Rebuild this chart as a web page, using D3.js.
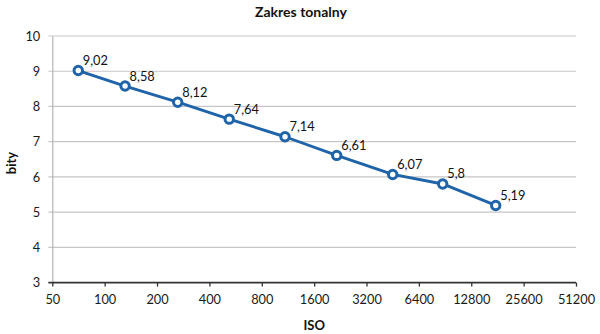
<!DOCTYPE html>
<html>
<head>
<meta charset="utf-8">
<script src="https://cdn.jsdelivr.net/npm/d3@7"></script>
<style>
  html, body { margin: 0; padding: 0; background: #fff; }
  svg { display: block; font-family: Lato, "Open Sans", sans-serif; }
</style>
</head>
<body>
<svg id="chart" width="600" height="334"></svg>
<script>
const chartTitle = "Zakres tonalny";
const xTitle = "ISO";
const yTitle = "bity";
const isoTicks = [50, 100, 200, 400, 800, 1600, 3200, 6400, 12800, 25600, 51200];
const yTicks = [3, 4, 5, 6, 7, 8, 9, 10];
const isoValues = [70.5, 131, 263, 520, 1088, 2157, 4525, 8772, 17690];
const bitValues = [9.02, 8.58, 8.12, 7.64, 7.14, 6.61, 6.07, 5.8, 5.19];

const blue = "#1f63a9";
const svg = d3.select("#chart");
const m = { left: 52.3, right: 576, top: 36, bottom: 282.6 };

const x = d3.scaleLog().base(2).domain([50, 51200]).range([m.left, m.right]);
const y = d3.scaleLinear().domain([3, 10]).range([m.bottom, m.top]);

// gridlines
svg.append("g")
  .selectAll("line").data(yTicks.filter(d => d > 3)).join("line")
  .attr("x1", m.left - 4).attr("x2", m.right)
  .attr("y1", d => y(d)).attr("y2", d => y(d))
  .attr("stroke", "#c6c6c6").attr("stroke-width", 1.2);

// y axis
const yAxis = d3.axisLeft(y).tickValues(yTicks).tickSize(0).tickPadding(12).tickFormat(d3.format("d"));
const gy = svg.append("g").attr("transform", `translate(${m.left},0)`).call(yAxis);
gy.select(".domain").attr("stroke", "#b4b4b4").attr("stroke-width", 1.2);
gy.selectAll("text").attr("font-size", 12.8).attr("fill", "#1a1a1a").attr("font-family", "Lato");

// x axis
const xAxis = d3.axisBottom(x).tickValues(isoTicks).tickSize(4).tickSizeOuter(0).tickPadding(8).tickFormat(d3.format("d"));
const gx = svg.append("g").attr("transform", `translate(0,${m.bottom})`).call(xAxis);
gx.select(".domain").attr("stroke", "#333").attr("stroke-width", 1.6)
  .attr("d", `M${m.left - 4},0H${m.right}`);
gx.selectAll(".tick line").attr("stroke", "#333").attr("stroke-width", 1.3);
gx.selectAll("text").attr("font-size", 12.8).attr("fill", "#1a1a1a").attr("font-family", "Lato");

// line
const pts = isoValues.map((v, i) => ({ iso: v, bits: bitValues[i] }));
svg.append("path").datum(pts)
  .attr("fill", "none").attr("stroke", blue).attr("stroke-width", 2.9)
  .attr("stroke-linejoin", "round")
  .attr("d", d3.line().x(d => x(d.iso)).y(d => y(d.bits)));

// markers
svg.append("g").selectAll("circle").data(pts).join("circle")
  .attr("cx", d => x(d.iso)).attr("cy", d => y(d.bits)).attr("r", 4.2)
  .attr("fill", "#fff").attr("stroke", blue).attr("stroke-width", 3);

// data labels
svg.append("g").selectAll("text").data(pts).join("text")
  .attr("x", d => x(d.iso) + 4.5).attr("y", d => y(d.bits) - 5.5)
  .attr("font-size", 12.8).attr("fill", "#111")
  .text(d => String(d.bits).replace(".", ","));

// titles
svg.append("text").attr("x", 301).attr("y", 16.5).attr("text-anchor", "middle")
  .attr("font-size", 14).attr("font-weight", "bold").attr("fill", "#111").text(chartTitle);
svg.append("text").attr("x", (m.left + m.right) / 2).attr("y", 329.5).attr("text-anchor", "middle")
  .attr("font-size", 13).attr("font-weight", "bold").attr("fill", "#111").text(xTitle);
svg.append("text").attr("transform", "translate(16,163) rotate(-90)").attr("text-anchor", "middle")
  .attr("font-size", 13).attr("font-weight", "bold").attr("fill", "#111").text(yTitle);
</script>
</body>
</html>
